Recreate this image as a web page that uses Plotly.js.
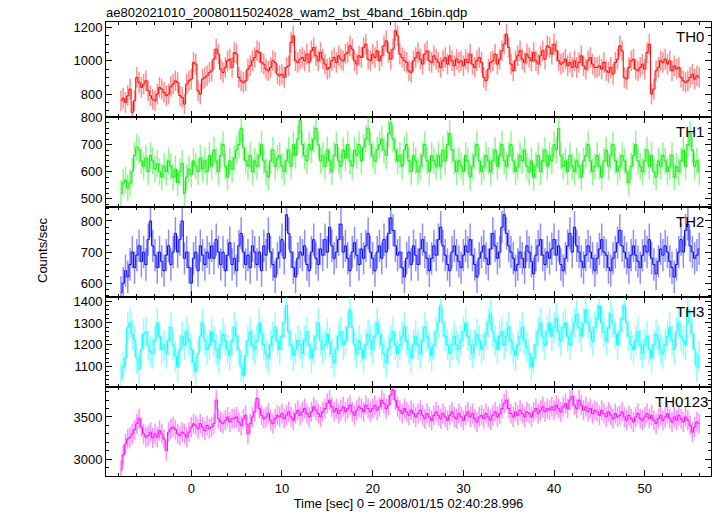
<!DOCTYPE html>
<html><head><meta charset="utf-8">
<script src="https://cdn.plot.ly/plotly-3.0.1.min.js"></script>
<style>body{margin:0;background:#fff}#chart{width:717px;height:516px}</style>
</head><body><div id="chart"></div>
<script>
// first bin centre and bin width (sec)
const tStart = -7.75;
const binWidth = 0.25;
const panelNames = ["TH0", "TH1", "TH2", "TH3", "TH0123"];
const panelColors = ["#ff0000", "#00ee00", "#0000ff", "#00ffff", "#ff00ff"];
const panelErrors = [62, 49, 52, 69, 118];

const th0 = [
760,775,750,790,830,690,760,900,870,840,
860,880,820,790,770,760,800,840,830,810,
790,800,845,860,880,870,790,780,740,860,
880,890,990,980,820,800,890,900,910,930,
940,1010,1070,1040,950,930,960,1000,1010,960,
1050,1040,900,880,870,880,950,970,1000,1020,
1060,1050,990,980,950,940,960,1000,990,920,
910,920,900,960,970,1110,1150,1000,990,1010,
1020,1000,1040,990,1060,1080,1030,1000,1050,1010,
980,950,960,1000,1020,990,1030,1010,1000,1040,
1050,1090,1070,1000,980,1030,1020,1080,1100,1010,
1000,1040,1020,1060,1000,1030,1090,1120,1050,1010,
1070,1180,1150,1040,1020,1000,990,940,930,1000,
1020,1050,1010,980,1040,1060,1000,990,1030,1010,
990,960,1000,1020,980,1030,1000,970,1010,990,
1000,970,1010,990,1040,980,960,1000,1020,990,
900,880,950,990,1000,1040,980,1010,1060,1100,
1160,1080,980,940,1000,1030,1060,1010,990,1040,
1020,1000,1050,1000,980,1030,1060,1010,1090,1080,
1040,1100,1060,1000,980,990,1010,970,990,960,
1000,960,990,1030,970,950,1000,1020,980,960,
960,970,950,990,940,930,960,920,990,1010,
1090,1060,900,890,960,1000,1010,950,940,960,
980,950,1050,1100,800,830,940,960,1000,990,
1010,980,1000,940,970,950,960,900,880,870,
880,900,920,890,910,900];
const th1 = [
520,560,570,540,560,600,660,690,680,640,
620,650,600,660,640,610,630,600,580,620,
600,640,620,580,610,560,600,630,520,580,
610,590,640,620,600,650,610,640,600,660,
620,680,640,600,660,700,620,580,640,610,
650,680,700,760,690,640,620,660,600,640,
620,660,700,640,600,580,640,680,620,650,
660,620,600,640,680,620,700,660,720,790,
700,660,640,700,680,720,760,700,640,660,
620,680,640,600,660,700,640,620,680,650,
700,640,620,680,660,700,640,690,720,760,
700,660,640,680,700,720,680,660,740,780,
720,680,640,660,620,680,700,640,600,660,
640,600,620,660,700,640,600,660,640,620,
660,620,680,640,700,740,680,640,600,640,
620,600,660,640,580,620,660,700,640,600,
620,660,640,600,640,680,620,660,700,640,
620,660,700,640,600,620,660,640,680,620,
600,640,580,620,660,600,640,680,620,660,
640,700,680,760,660,620,640,600,660,620,
600,640,620,580,640,660,700,640,600,620,
660,620,580,640,680,620,660,700,640,600,
620,660,640,600,560,620,660,700,640,620,
600,640,680,620,660,600,580,640,620,660,
640,600,620,660,580,620,600,640,680,620,
700,740,680,620,640,600];
const th2 = [
570,600,640,620,660,700,650,690,720,670,
700,660,740,800,720,690,650,700,670,640,
690,720,660,700,760,700,740,800,680,700,
650,600,680,700,640,720,690,660,700,680,
720,680,740,700,660,700,640,690,730,660,
680,640,720,760,700,660,690,650,720,700,
660,700,640,720,690,760,700,660,620,680,
700,740,680,820,760,700,650,620,680,700,
690,720,660,640,700,740,680,660,710,690,
740,700,780,720,680,700,740,790,700,720,
680,640,700,730,690,660,710,680,720,760,
700,680,640,700,720,680,740,700,760,810,
770,720,690,700,650,620,680,700,660,720,
690,660,710,740,700,680,640,680,720,690,
740,780,720,690,660,640,700,720,690,670,
650,690,720,700,740,690,660,620,680,700,
720,680,660,710,760,720,680,700,780,820,
760,720,700,680,640,660,700,680,650,720,
700,670,630,690,720,740,690,660,700,680,
710,740,690,720,660,640,680,720,760,700,
780,720,700,670,650,690,720,700,680,640,
680,710,740,700,690,650,640,680,700,730,
770,720,700,680,650,690,720,690,670,650,
690,720,700,740,680,660,630,670,710,690,
720,700,670,650,620,660,700,740,700,770,
790,720,700,680,690,710];
const th3 = [
1050,1100,1140,1280,1300,1250,1220,1140,1090,1180,
1250,1260,1200,1170,1160,1220,1300,1240,1180,1200,
1160,1220,1280,1200,1150,1100,1180,1240,1200,1260,
1220,1180,1120,1080,1160,1240,1300,1220,1180,1200,
1260,1220,1180,1140,1200,1250,1220,1180,1150,1220,
1280,1240,1180,1100,1060,1150,1220,1260,1200,1180,
1220,1300,1250,1200,1160,1140,1200,1240,1280,1220,
1180,1240,1300,1380,1260,1200,1150,1180,1220,1200,
1160,1220,1260,1200,1140,1180,1240,1300,1220,1180,
1200,1250,1210,1160,1120,1180,1240,1260,1200,1220,
1280,1360,1280,1200,1160,1220,1180,1140,1200,1250,
1220,1180,1240,1300,1250,1200,1160,1120,1180,1220,
1260,1200,1160,1200,1240,1280,1220,1180,1140,1200,
1240,1200,1160,1220,1280,1240,1190,1150,1200,1260,
1300,1380,1300,1240,1200,1160,1200,1240,1200,1180,
1220,1260,1300,1240,1200,1160,1200,1250,1220,1180,
1200,1250,1300,1340,1260,1220,1180,1240,1260,1200,
1240,1280,1220,1180,1150,1200,1240,1280,1220,1190,
1160,1100,1140,1200,1260,1300,1240,1200,1260,1300,
1240,1280,1320,1260,1220,1280,1300,1240,1200,1260,
1300,1340,1280,1240,1300,1360,1300,1260,1220,1280,
1320,1380,1300,1260,1220,1280,1340,1300,1250,1200,
1260,1320,1380,1300,1240,1200,1180,1220,1260,1200,
1160,1200,1240,1180,1140,1200,1250,1220,1180,1160,
1200,1240,1280,1220,1180,1260,1300,1240,1220,1200,
1360,1300,1250,1180,1100,1150];
const th0123 = [
2870,3050,3180,3240,3260,3300,3350,3420,3480,3380,
3300,3260,3280,3320,3250,3300,3260,3340,3300,3240,
3100,3320,3360,3380,3350,3300,3280,3320,3300,3260,
3320,3380,3420,3400,3360,3420,3380,3340,3400,3360,
3380,3420,3700,3480,3440,3420,3460,3500,3440,3480,
3480,3500,3440,3400,3480,3520,3300,3420,3500,3560,
3720,3600,3520,3480,3500,3540,3460,3420,3480,3520,
3500,3540,3480,3520,3560,3500,3460,3540,3580,3520,
3560,3600,3540,3500,3560,3620,3580,3540,3500,3560,
3600,3660,3700,3620,3560,3600,3540,3580,3620,3560,
3600,3640,3560,3520,3580,3620,3600,3560,3640,3600,
3560,3600,3640,3580,3620,3700,3660,3600,3640,3760,
3820,3700,3620,3580,3540,3600,3560,3520,3580,3540,
3500,3540,3580,3520,3480,3540,3500,3460,3520,3560,
3520,3480,3540,3500,3460,3520,3560,3500,3480,3540,
3500,3460,3520,3560,3500,3540,3480,3440,3500,3520,
3480,3540,3500,3460,3520,3560,3500,3540,3600,3660,
3700,3600,3540,3500,3560,3520,3580,3540,3500,3560,
3540,3500,3560,3600,3540,3580,3620,3560,3600,3580,
3620,3580,3640,3600,3560,3620,3660,3600,3700,3740,
3640,3600,3700,3640,3580,3620,3560,3600,3540,3580,
3560,3520,3580,3540,3500,3560,3520,3480,3540,3500,
3520,3560,3500,3460,3520,3480,3440,3500,3540,3480,
3460,3500,3540,3480,3520,3460,3420,3480,3520,3460,
3500,3540,3480,3440,3500,3460,3520,3480,3440,3500,
3460,3400,3320,3380,3440,3420];

const series = [th0, th1, th2, th3, th0123];
const yRanges = [[663,1233],[470,802],[555,845],[1010,1418],[2800,3860]];
const yDticks = [200, 100, 100, 100, 500];
const yMinor = [50, 20, 20, 20, 100];
const domains = [[0.791,1],[0.5925,0.791],[0.394,0.5925],[0.197,0.394],[0,0.197]];
const labelShift = [-5, -5, -5, -5, -1];

function rgba(hex, a){
  const r=parseInt(hex.slice(1,3),16), g=parseInt(hex.slice(3,5),16), b=parseInt(hex.slice(5,7),16);
  return `rgba(${r},${g},${b},${a})`;
}

const traces = [];
const layout = {
  width: 717, height: 516,
  margin: {l: 106, r: 6, t: 22, b: 40},
  paper_bgcolor: "#fff", plot_bgcolor: "#fff",
  showlegend: false,
  font: {family: "Liberation Sans, Arial, sans-serif", size: 13, color: "#000"},
  title: {text: "ae802021010_20080115024028_wam2_bst_4band_16bin.qdp", x: 106/717, xanchor: "left", y: 1 - 12/516, yanchor: "middle", font: {size: 13}},
  annotations: [],
};

series.forEach((vals, k) => {
  const n = k + 1;
  const xs = vals.map((_, i) => tStart + binWidth * i);
  const xa = n === 1 ? "x" : "x" + n;
  const ya = n === 1 ? "y" : "y" + n;
  const col = panelColors[k];
  traces.push({
    type: "scatter", mode: "lines", x: xs, y: vals,
    xaxis: xa, yaxis: ya,
    line: {shape: "hvh", width: 1, color: col},
    error_y: {type: "constant", value: panelErrors[k], width: 0, thickness: 1.5, color: rgba(col, 0.45)},
    hoverinfo: "skip"
  });
  const xkey = n === 1 ? "xaxis" : "xaxis" + n;
  const ykey = n === 1 ? "yaxis" : "yaxis" + n;
  layout[xkey] = {
    domain: [0, 1], anchor: ya, range: [-9.4, 57.3],
    matches: n === 1 ? undefined : "x",
    showgrid: false, zeroline: false, showline: true, linecolor: "#000", linewidth: 1,
    mirror: "ticks", ticks: "inside", ticklen: 6, tickwidth: 1, tickcolor: "#000",
    dtick: 10, tick0: 0, showticklabels: n === 5,
    minor: {dtick: 2, tick0: 0, ticks: "inside", ticklen: 3, tickcolor: "#000", showgrid: false},
    tickfont: {size: 13},
  };
  if (n === 5) {
    layout[xkey].title = {text: "Time [sec] 0 = 2008/01/15 02:40:28.996", font: {size: 13}, standoff: 4};
  }
  layout[ykey] = {
    domain: domains[k], anchor: xa, range: yRanges[k],
    showgrid: false, zeroline: false, showline: true, linecolor: "#000", linewidth: 1,
    mirror: "ticks", ticks: "inside", ticklen: 6, tickwidth: 1, tickcolor: "#000",
    dtick: yDticks[k], tick0: 0,
    minor: {dtick: yMinor[k], tick0: 0, ticks: "inside", ticklen: 3, tickcolor: "#000", showgrid: false},
    tickfont: {size: 13},
  };
  layout.annotations.push({
    text: panelNames[k], xref: "paper", yref: "paper", x: 1, xanchor: "right", xshift: labelShift[k],
    y: domains[k][1], yanchor: "top", yshift: -4, showarrow: false, font: {size: 15}
  });
});
layout.annotations.push({
  text: "Counts/sec", xref: "paper", yref: "paper", x: -64/605, xanchor: "center",
  y: (476-250)/454, yanchor: "middle", textangle: -90, showarrow: false, font: {size: 13}
});

Plotly.newPlot("chart", traces, layout, {staticPlot: true});
</script></body></html>
